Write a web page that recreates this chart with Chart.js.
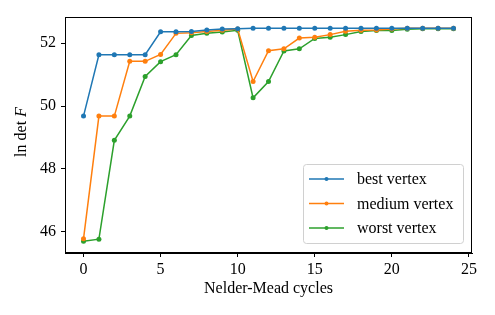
<!DOCTYPE html>
<html>
<head>
<meta charset="utf-8">
<script src="https://cdn.jsdelivr.net/npm/chart.js@4.4.0/dist/chart.umd.min.js"></script>
<style>
  html, body { margin: 0; padding: 0; background: #fff; }
  #wrap { width: 495px; height: 315px; position: relative; }
</style>
</head>
<body>
<div id="wrap"><canvas id="chart"></canvas></div>
<script>
// Data
const cycles = [0, 1, 2, 3, 4, 5, 6, 7, 8, 9, 10, 11, 12, 13, 14, 15, 16, 17, 18, 19, 20, 21, 22, 23, 24];
const bestVertex = [49.68, 51.63, 51.63, 51.63, 51.63, 52.36, 52.36, 52.37, 52.42, 52.45, 52.46, 52.47, 52.47,
  52.47, 52.47, 52.47, 52.47, 52.47, 52.47, 52.47, 52.47, 52.47, 52.47, 52.47, 52.47];
const mediumVertex = [45.78, 49.68, 49.68, 51.42, 51.42, 51.64, 52.31, 52.33, 52.37, 52.41, 52.45, 50.78, 51.76,
  51.82, 52.16, 52.19, 52.27, 52.38, 52.41, 52.42, 52.45, 52.47, 52.47, 52.47, 52.47];
const worstVertex = [45.70, 45.77, 48.91, 49.68, 50.94, 51.41, 51.63, 52.24, 52.31, 52.35, 52.41, 50.26, 50.78,
  51.75, 51.82, 52.15, 52.19, 52.27, 52.37, 52.40, 52.40, 52.44, 52.46, 52.46, 52.46];
const seriesLabels = ['best vertex', 'medium vertex', 'worst vertex'];
const xTicks = [0, 5, 10, 15, 20, 25];
const yTicks = [46, 48, 50, 52];

const colors = ['#1f77b4', '#ff7f0e', '#2ca02c'];
const serif = '"Liberation Serif", "Times New Roman", serif';
const fontSize = 16;

function toPoints(values) {
  return values.map((v, i) => ({ x: cycles[i], y: v }));
}

// frame, legend and y-axis title drawn on top of the chart
const decorations = {
  id: 'decorations',
  afterDatasetsDraw(chart) {
    const { ctx, chartArea: a } = chart;
    ctx.save();
    ctx.strokeStyle = '#000';
    ctx.lineWidth = 1;
    ctx.strokeRect(a.left + 0.5, a.top + 0.5, a.right - a.left - 1, a.bottom - a.top - 1);

    // legend box
    const w = 160, h = 79;
    const lx = a.right - 9 - w, ly = a.bottom - 10 - h;
    ctx.beginPath();
    ctx.roundRect(lx + 0.5, ly + 0.5, w, h, 3);
    ctx.fillStyle = 'rgba(255,255,255,0.8)';
    ctx.fill();
    ctx.strokeStyle = '#d0d0d0';
    ctx.stroke();

    ctx.font = fontSize + 'px ' + serif;
    ctx.textBaseline = 'middle';
    chart.data.datasets.forEach((ds, i) => {
      const y = ly + 15 + i * 24.5;
      ctx.strokeStyle = ds.borderColor;
      ctx.lineWidth = 1.5;
      ctx.beginPath();
      ctx.moveTo(lx + 6, y);
      ctx.lineTo(lx + 41, y);
      ctx.stroke();
      ctx.fillStyle = ds.borderColor;
      ctx.beginPath();
      ctx.arc(lx + 23.5, y, 2, 0, Math.PI * 2);
      ctx.fill();
      ctx.fillStyle = '#000';
      ctx.fillText(ds.label, lx + 54, y + 1);
    });

    // y title: ln det F
    ctx.translate(22, (a.top + a.bottom) / 2 - 3);
    ctx.rotate(-Math.PI / 2);
    ctx.fillStyle = '#000';
    ctx.textBaseline = 'middle';
    const p1 = 'ln det ';
    ctx.font = fontSize + 'px ' + serif;
    const w1 = ctx.measureText(p1).width;
    ctx.font = 'italic ' + fontSize + 'px ' + serif;
    const w2 = ctx.measureText('F').width;
    const start = -(w1 + w2) / 2;
    ctx.font = fontSize + 'px ' + serif;
    ctx.textAlign = 'left';
    ctx.fillText(p1, start, 0);
    ctx.font = 'italic ' + fontSize + 'px ' + serif;
    ctx.fillText('F', start + w1, 0);
    ctx.restore();
  }
};

new Chart(document.getElementById('chart'), {
  type: 'line',
  data: {
    datasets: [bestVertex, mediumVertex, worstVertex].map((vals, i) => ({
      label: seriesLabels[i],
      data: toPoints(vals),
      borderColor: colors[i],
      backgroundColor: colors[i],
      borderWidth: 1.5,
      pointRadius: 2.5,
      pointBorderWidth: 0,
      tension: 0
    }))
  },
  options: {
    responsive: true,
    maintainAspectRatio: false,
    animation: false,
    layout: { padding: { top: 17, right: 23, left: 0, bottom: 0 } },
    plugins: { legend: { display: false }, tooltip: { enabled: false } },
    scales: {
      x: {
        type: 'linear',
        min: -1.2,
        max: 25.2,
        afterBuildTicks: s => { s.ticks = xTicks.map(v => ({ value: v })); },
        afterFit: s => { s.height = 62; },
        grid: { drawOnChartArea: false, tickLength: 4, tickColor: '#000', tickWidth: 1 },
        border: { color: '#000', width: 1 },
        ticks: { color: '#000', padding: 3, font: { family: serif, size: fontSize } },
        title: {
          display: true,
          text: 'Nelder-Mead cycles',
          color: '#000',
          padding: { top: 1, bottom: 17 },
          font: { family: serif, size: fontSize }
        }
      },
      y: {
        min: 45.33,
        max: 52.83,
        afterBuildTicks: s => { s.ticks = yTicks.map(v => ({ value: v })); },
        afterFit: s => { s.width = 65; },
        grid: { drawOnChartArea: false, tickLength: 4, tickColor: '#000', tickWidth: 1 },
        border: { color: '#000', width: 1 },
        ticks: { color: '#000', padding: 5, font: { family: serif, size: fontSize } }
      }
    }
  },
  plugins: [decorations]
});
</script>
</body>
</html>
